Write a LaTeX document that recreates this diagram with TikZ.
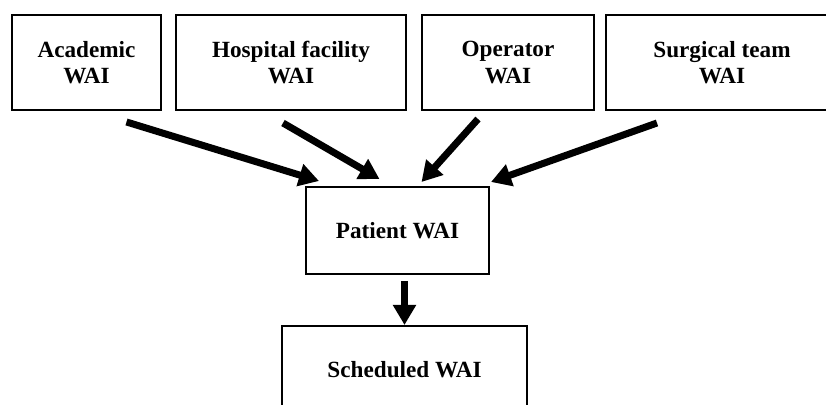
\documentclass[tikz,border=0pt]{standalone}
\usepackage{fontspec}
\setmainfont{Liberation Serif}
\usepackage{tikz}
\usetikzlibrary{arrows.meta, positioning}

\begin{document}
\begin{tikzpicture}[x=0.5pt, y=-0.5pt]
    \tikzstyle{box} = [rectangle, draw=black, line width=1pt, inner sep=0pt, minimum height=47.5pt, text centered, align=center, font=\fontsize{11.6}{13.3}\selectfont\bfseries]
    \tikzstyle{arrow} = [line width=3.5pt, -{Triangle[length=10pt,width=11pt]}]

    \useasboundingbox (0,0) rectangle (826,405);

    \node (academic) [box, minimum width=74.5pt] at (86.5,62.5) {Academic\\WAI};
    \node (hospital) [box, minimum width=115pt] at (291,62.5) {Hospital facility\\WAI};
    \node (operator) [box, minimum width=86pt] at (508,62.5) {Operator\\WAI};
    \node (surgical) [box, minimum width=116pt] at (722,62.5) {Surgical team\\WAI};

    \node (patient) [box, minimum width=91.5pt, minimum height=43.5pt] at (397.5,230.5) {Patient WAI};
    \node (scheduled) [box, minimum width=122.5pt, minimum height=44pt] at (404.5,370) {Scheduled WAI};

    \draw [arrow] ([xshift=20pt,yshift=-5.5pt]academic.south) -- ([xshift=7pt,yshift=2.5pt]patient.north west);
    \draw [arrow] ([xshift=-4pt,yshift=-6pt]hospital.south) -- ([xshift=-9pt,yshift=3.5pt]patient.north);
    \draw [arrow] ([xshift=-15pt,yshift=-4pt]operator.south) -- ([xshift=12pt,yshift=2pt]patient.north);
    \draw [arrow] ([xshift=-32.5pt,yshift=-6pt]surgical.south) -- ([xshift=0.5pt,yshift=2pt]patient.north east);

    \draw [arrow] ([yshift=-3pt]patient.south -| scheduled.north) -- (scheduled.north);
\end{tikzpicture}
\end{document}
